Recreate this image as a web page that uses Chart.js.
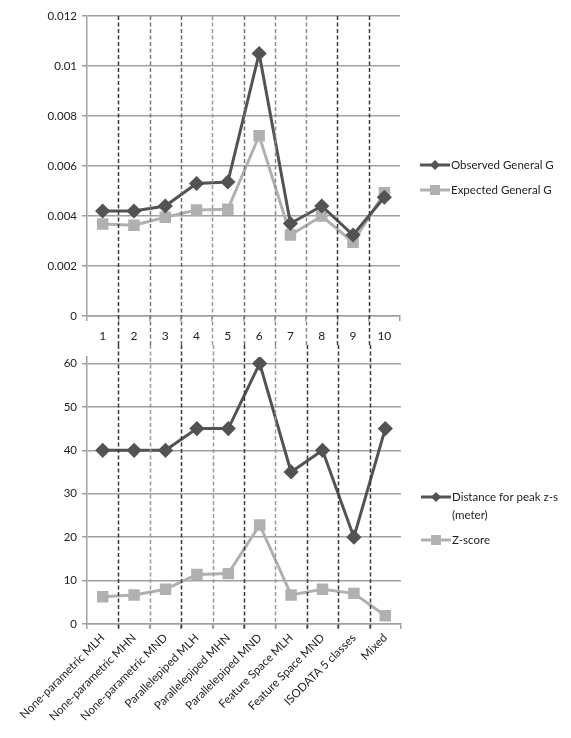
<!DOCTYPE html>
<html>
<head>
<meta charset="utf-8">
<script src="https://cdn.jsdelivr.net/npm/chart.js@4"></script>
<style>
  html, body { margin: 0; padding: 0; background: #fff; }
  #wrap { position: relative; width: 571px; height: 738px; }
  #top { position: absolute; left: 0; top: 0; }
  #bottom { position: absolute; left: 0; top: 345px; }
</style>
</head>
<body>
<div id="wrap">
  <canvas id="top" width="571" height="345"></canvas>
  <canvas id="bottom" width="571" height="393"></canvas>
</div>
<script>
// Classification methods (x categories)
const indexLabels = ['1', '2', '3', '4', '5', '6', '7', '8', '9', '10'];
const methodLabels = [
  'None-parametric MLH', 'None-parametric MHN', 'None-parametric MND',
  'Parallelepiped MLH', 'Parallelepiped MHN', 'Parallelepiped MND',
  'Feature Space MLH', 'Feature Space MND', 'ISODATA 5 classes', 'Mixed'
];

// General G statistics
const observedG = [0.0042, 0.0042, 0.0044, 0.0053, 0.00536, 0.0105, 0.0037, 0.0044, 0.00324, 0.00475];
const expectedG = [0.00368, 0.00363, 0.00395, 0.00424, 0.00427, 0.00721, 0.00324, 0.004, 0.00295, 0.00493];

// Peak distance and z-score
const peakDistance = [40, 40, 40, 45, 45, 60, 35, 40, 20, 45];
const zScore = [6.3, 6.7, 8.0, 11.4, 11.6, 22.8, 6.7, 8.0, 7.05, 1.9];

const topTicks = [0, 0.002, 0.004, 0.006, 0.008, 0.01, 0.012];
const bottomTicks = [0, 10, 20, 30, 40, 50, 60];

const FONT = 'Lato, "Open Sans", sans-serif';
const TEXT = '#222';
const DARK = '#535353';
const LIGHT = '#b0b0b0';
const GRID = '#a0a0a0';

// Dashed separators between the categories (boundary i sits between category i-1 and i)
const topSepColors = [null, '#3a3a3a', '#7a7a7a', '#6a6a6a', '#9a9a9a', '#707070', '#8a8a8a', '#8a8a8a', '#3a3a3a', '#3a3a3a', null];
const bottomSepColors = [null, '#3a3a3a', '#9a9a9a', '#3a3a3a', '#9a9a9a', '#3a3a3a', '#9a9a9a', '#3a3a3a', '#3a3a3a', '#3a3a3a', null];

function separatorPlugin(colors, extendUp, extendDown) {
  return {
    id: 'separators',
    afterDatasetsDraw(chart) {
      const ctx = chart.ctx;
      const xs = chart.scales.x;
      const area = chart.chartArea;
      const n = xs.getLabels().length;
      ctx.save();
      ctx.lineWidth = 1.5;
      ctx.setLineDash([4, 2.5]);
      for (let i = 1; i < n; i++) {
        if (!colors[i]) continue;
        const x = Math.round((xs.getPixelForValue(i - 1) + xs.getPixelForValue(i)) / 2) + 0.5;
        const y0 = extendUp ? 0 : area.top;
        const y1 = extendDown ? chart.height : area.bottom + 6;
        ctx.strokeStyle = colors[i];
        ctx.beginPath();
        ctx.moveTo(x, y0);
        ctx.lineTo(x, y1);
        ctx.stroke();
      }
      ctx.restore();
    }
  };
}

// Legend drawn at the right of the plot, one entry per dataset
function sideLegend(x, ys, maxWidth) {
  return {
    id: 'sideLegend',
    afterDraw(chart) {
      const ctx = chart.ctx;
      ctx.save();
      ctx.font = '11.5px ' + FONT;
      ctx.textBaseline = 'middle';
      chart.data.datasets.forEach((ds, i) => {
        const y = ys[i];
        ctx.strokeStyle = ds.borderColor;
        ctx.lineWidth = 3;
        ctx.setLineDash([]);
        ctx.beginPath();
        ctx.moveTo(x, y);
        ctx.lineTo(x + 30, y);
        ctx.stroke();
        ctx.fillStyle = ds.borderColor;
        const cx = x + 15;
        if (ds.pointStyle === 'rectRot') {
          ctx.beginPath();
          ctx.moveTo(cx, y - 5); ctx.lineTo(cx + 5, y); ctx.lineTo(cx, y + 5); ctx.lineTo(cx - 5, y);
          ctx.closePath(); ctx.fill();
        } else {
          ctx.fillRect(cx - 5, y - 5, 10, 10);
        }
        ctx.fillStyle = TEXT;
        // simple word wrap
        const words = ds.label.split(' ');
        const lines = [];
        let line = '';
        words.forEach(w => {
          const t = line ? line + ' ' + w : w;
          if (ctx.measureText(t).width > maxWidth && line) { lines.push(line); line = w; }
          else line = t;
        });
        lines.push(line);
        lines.forEach((l, k) => ctx.fillText(l, x + 31, y + k * 18));
      });
      ctx.restore();
    }
  };
}

function makeScales(ticks, max, xLabelsHeight, xTickOpts, yFmt) {
  return {
    x: {
      type: 'category',
      offset: true,
      grid: { offset: true, drawOnChartArea: false, drawTicks: true, tickLength: 5, color: GRID, lineWidth: 1.5 },
      border: { display: true, color: GRID, width: 1.5 },
      ticks: Object.assign({ color: TEXT, font: { family: FONT, size: 12 }, autoSkip: false }, xTickOpts),
      afterFit(scale) { scale.height = xLabelsHeight; }
    },
    y: {
      min: 0,
      max: max,
      afterBuildTicks(scale) { scale.ticks = ticks.map(v => ({ value: v })); },
      grid: { color: GRID, lineWidth: 1.5, drawTicks: true, tickLength: 5 },
      border: { display: true, color: GRID, width: 1.5 },
      ticks: { color: TEXT, font: { family: FONT, size: 11.5 }, padding: 5, callback: yFmt },
      afterFit(scale) { scale.width = 87; }
    }
  };
}

function seriesStyle(color, style) {
  return {
    borderColor: color,
    backgroundColor: color,
    pointBackgroundColor: color,
    pointBorderColor: color,
    pointStyle: style,
    pointRadius: style === 'rect' ? 6 : 5.5,
    borderWidth: 3,
    tension: 0,
    fill: false
  };
}

const commonOpts = {
  responsive: false,
  animation: false,
  plugins: { legend: { display: false }, tooltip: { enabled: false } }
};

new Chart(document.getElementById('top'), {
  type: 'line',
  data: {
    labels: indexLabels,
    datasets: [
      Object.assign({ label: 'Observed General G', data: observedG }, seriesStyle(DARK, 'rectRot')),
      Object.assign({ label: 'Expected General G', data: expectedG }, seriesStyle(LIGHT, 'rect'))
    ]
  },
  options: Object.assign({}, commonOpts, {
    layout: { padding: { left: 0, top: 16, right: 171, bottom: 0 } },
    scales: makeScales(topTicks, 0.012, 29, { padding: 8, maxRotation: 0 },
      v => (v === 0 ? '0' : String(+v.toFixed(3))))
  }),
  plugins: [separatorPlugin(topSepColors, false, true), sideLegend(420, [165, 190], 118)]
});

new Chart(document.getElementById('bottom'), {
  type: 'line',
  data: {
    labels: methodLabels,
    datasets: [
      Object.assign({ label: 'Distance for peak z-s (meter)', data: peakDistance }, seriesStyle(DARK, 'rectRot')),
      Object.assign({ label: 'Z-score', data: zScore }, seriesStyle(LIGHT, 'rect'))
    ]
  },
  options: Object.assign({}, commonOpts, {
    layout: { padding: { left: 0, top: 9, right: 170, bottom: 0 } },
    scales: makeScales(bottomTicks, 61.5, 114,
      { padding: 2, minRotation: 45, maxRotation: 45, font: { family: FONT, size: 11.5 } },
      v => String(v))
  }),
  plugins: [separatorPlugin(bottomSepColors, true, false), sideLegend(421, [152, 195], 118)]
});
</script>
</body>
</html>
